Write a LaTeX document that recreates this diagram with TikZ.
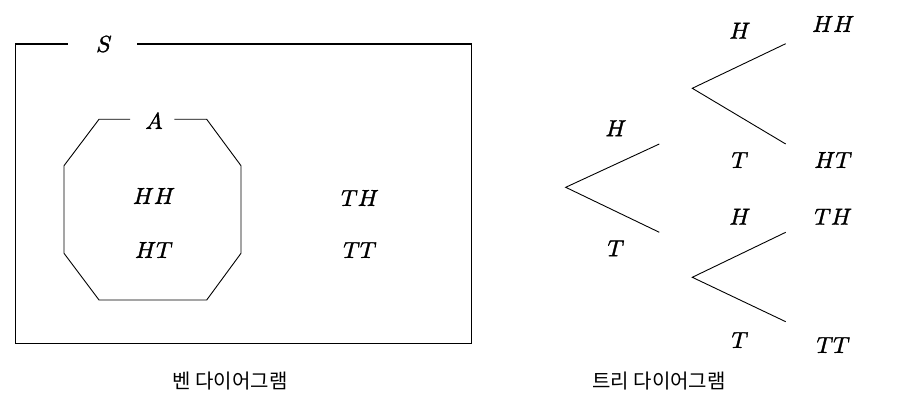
\documentclass[tikz,border=0pt]{standalone}
\usepackage{fontspec}
\usepackage{graphicx}
\newfontfamily\kr{Noto Sans CJK KR}
\newcommand{\mathlab}[1]{\special{pdf:literal direct 2 Tr 0.15 w}\scalebox{2.3}{$#1$}\special{pdf:literal direct 0 Tr}}
\begin{document}
\begin{tikzpicture}[x=1pt,y=-1pt,
  lab/.style={inner sep=0pt},
  captxt/.style={inner sep=0pt,font=\kr\fontsize{20}{24}\selectfont},
  boxline/.style={line width=1.2pt},
  thinline/.style={line width=0.9pt}]
\useasboundingbox (0,0) rectangle (910,411);
% Venn diagram
\node[lab] (S) at (104,44) {\mathlab{S}};
\coordinate (sL) at (67.7,44);
\coordinate (sR) at (136.7,44);
\draw[boxline] (sL) -- (15.7,44) -- (15.7,343.3) -- (471.7,343.3) -- (471.7,44) -- (sR);
\node[lab] (A) at (154,121) {\mathlab{A}};
\coordinate (aL) at (130,119.3);
\coordinate (aR) at (174.3,119.3);
\draw[thinline] (aL) -- (99,119.3) -- (64,165.7) -- (64,253.3) -- (99,300) -- (206.7,300)
  -- (241,253.3) -- (241,165.7) -- (206.7,119.3) -- (aR);
\node[lab] (hh) at (154,196) {\mathlab{HH}};
\node[lab] (ht) at (154,250) {\mathlab{HT}};
\node[lab] (th) at (360,198) {\mathlab{TH}};
\node[lab] (tt) at (360,250) {\mathlab{TT}};
\node[captxt] (c1) at (230,381) {벤 다이어그램};
% Tree diagram
\coordinate (r) at (565.7,187.3);
\coordinate (r1) at (659.3,144);
\coordinate (r2) at (659.3,232.3);
\coordinate (u) at (692.3,88.3);
\coordinate (u1) at (785.7,43.7);
\coordinate (u2) at (785.7,144);
\coordinate (d) at (692.3,277.3);
\coordinate (d1) at (785.7,232.3);
\coordinate (d2) at (785.7,321.7);
\draw[thinline] (r1) -- (r) -- (r2);
\draw[thinline] (u1) -- (u) -- (u2);
\draw[thinline] (d1) -- (d) -- (d2);
\node[lab] (l1) at (616,128.3) {\mathlab{H}};
\node[lab] (l2) at (616,248.3) {\mathlab{T}};
\node[lab] (l3) at (740,30.7) {\mathlab{H}};
\node[lab] (l4) at (740,160) {\mathlab{T}};
\node[lab] (l5) at (740,216.7) {\mathlab{H}};
\node[lab] (l6) at (740,340) {\mathlab{T}};
\node[lab] (o1) at (833.3,24) {\mathlab{HH}};
\node[lab] (o2) at (833.3,160) {\mathlab{HT}};
\node[lab] (o3) at (833.3,216.7) {\mathlab{TH}};
\node[lab] (o4) at (833.3,345) {\mathlab{TT}};
\node[captxt] (c2) at (659,381) {트리 다이어그램};
\end{tikzpicture}
\end{document}
